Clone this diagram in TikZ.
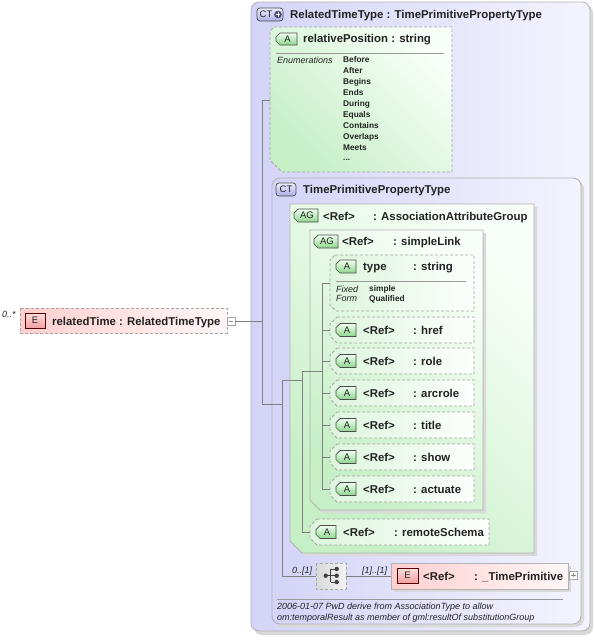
\documentclass[tikz,border=0pt]{standalone}
\usepackage{fontspec}
\setmainfont{Liberation Sans}
\definecolor{ctl}{HTML}{D3D4F7}
\definecolor{ctr}{HTML}{F4F4FE}
\definecolor{grl}{HTML}{C6EFC6}
\definecolor{grr}{HTML}{F8FFF8}
\definecolor{al}{HTML}{DDF5DD}
\definecolor{ar}{HTML}{FCFFFC}
\definecolor{pl}{HTML}{FFCFCF}
\definecolor{pr}{HTML}{FFF7F7}
\definecolor{ink}{HTML}{222222}
\definecolor{icgt}{HTML}{F0FFF0}
\definecolor{icgb}{HTML}{8ED68E}
\definecolor{icct}{HTML}{EEEEFF}
\definecolor{iccb}{HTML}{ACACE6}
\definecolor{icet}{HTML}{FFE0E0}
\definecolor{iceb}{HTML}{F0A0A0}
\newcommand\cbox[7]{\path[#1] ({#2+#6},#3) -- (#4,#3) -- (#4,#5) -- ({#2+#7},#5) -- (#2,{#5-#7}) -- (#2,{#3+#6}) -- cycle;}
\newcommand\tagicon[6]{\cbox{iconA}{#2}{#3}{#4}{#5}{4}{4}\node[icontxt] (#1) at ({(#2+#4)/2+1},{(#3+#5)/2}) {#6};}
\begin{document}
\begin{tikzpicture}[x=1pt,y=-1pt,
  txt/.style={anchor=base west,inner sep=0,text=ink},
  lbl/.style={txt,font=\fontsize{11.4}{13}\selectfont\bfseries},
  small/.style={txt,font=\fontsize{8.3}{10}\selectfont\bfseries},
  ital/.style={txt,font=\fontsize{9}{11}\selectfont\itshape},
  icontxt/.style={inner sep=0,text=ink,font=\fontsize{9.5}{11}\selectfont},
  conn/.style={draw=black!50,line width=0.6pt},
  shadow/.style={fill=black!15,draw=none},
  ctbox/.style={draw=black!30,line width=0.8pt,left color=ctl,right color=ctr,rounded corners=8pt},
  grbox/.style={draw=black!30,line width=0.8pt,bottom color=grl,top color=grr,shading angle=-45},
  dashbox/.style={draw=black!35,dash pattern=on 3pt off 2pt,line width=0.8pt},
  grdash/.style={dashbox,bottom color=grl,top color=grr,shading angle=-45},
  adash/.style={dashbox,left color=al,right color=ar},
  pinkdash/.style={dashbox,left color=pl,right color=pr},
  pinkbox/.style={draw=black!30,line width=0.8pt,left color=pl,right color=pr},
  seqbox/.style={dashbox,left color=black!15,right color=black!5},
  iconA/.style={draw=black!70,line width=0.7pt,top color=icgt,bottom color=icgb},
  iconCT/.style={draw=black!70,line width=0.7pt,top color=icct,bottom color=iccb,rounded corners=3pt},
  iconE/.style={draw=red!35!black,line width=0.7pt,top color=icet,bottom color=iceb},
  sep/.style={draw=black!40,line width=0.6pt},
  pm/.style={draw=black!35,line width=0.5pt,fill=white},
]
\useasboundingbox (0,0) rectangle (594,643);
\fill[white] (0,0) rectangle (594,643);

% ---------- outer complex type ----------
\path[shadow,rounded corners=8pt] (254,5) rectangle (593,635);
\path[ctbox] (251,2) rectangle (590,631);
\path[iconCT] (257,8) rectangle (283,21);
\node[icontxt] (ct1) at (266,14.5) {CT};
\fill[blue!25!black!70] (278,14.5) circle (3.8);
\draw[white,line width=1pt] (275.8,14.5) -- (280.2,14.5) (278,12.3) -- (278,16.7);
\node[lbl] (hdr1) at (290,18) {RelatedTimeType : TimePrimitivePropertyType};

% ---------- relativePosition ----------
\cbox{grdash}{270}{27}{452}{172}{4}{12}
\coordinate (rp-w) at (270,100);
\tagicon{rpA}{276}{33}{297}{45}{A}
\node[lbl] (rp) at (303,42) {relativePosition : string};
\draw[sep] (276,53) -- (444,53);
\node[ital] (enum) at (277,63) {Enumerations};
\foreach \v [count=\i from 0] in {Before,After,Begins,Ends,During,Equals,Contains,Overlaps,Meets}
  \node[small] (ev\i) at (343,{62.8+10.9*\i}) {\v};
\node[small] (evdots) at (343,160.9) {...};

% ---------- inner complex type ----------
\path[shadow,rounded corners=8pt] (275,181) rectangle (584,627);
\path[ctbox] (272,178) rectangle (581,624);
\path[iconCT] (276,183) rectangle (296,196);
\node[icontxt] (ct2) at (286,189.5) {CT};
\node[lbl] (hdr2) at (303,193) {TimePrimitivePropertyType};

% ---------- AssociationAttributeGroup ----------
\cbox{shadow}{293}{207}{537}{556}{0}{12}
\cbox{grbox}{290}{204}{534}{553}{0}{12}
\tagicon{ag1A}{294}{209}{318}{222}{AG}
\node[lbl] (ag1r) at (323,220) {<Ref>};
\node[lbl] (ag1t) at (373,220) {: AssociationAttributeGroup};

% ---------- simpleLink ----------
\cbox{shadow}{313}{233}{486}{513}{0}{10}
\cbox{grbox}{310}{230}{483}{510}{0}{10}
\tagicon{ag2A}{314}{235}{338}{248}{AG}
\node[lbl] (ag2r) at (342,245) {<Ref>};
\node[lbl] (ag2t) at (393,245) {: simpleLink};

% ---------- type attribute ----------
\cbox{adash}{330}{255}{474}{311}{5}{6}
\coordinate (type-w) at (330,283);
\tagicon{tyA}{336}{260}{356}{273}{A}
\node[lbl] (tyn) at (363,270) {type};
\node[lbl] (tyt) at (413,270) {: string};
\draw[sep] (336,281) -- (466,281);
\node[ital] (fx) at (336,292) {Fixed};
\node[ital] (fm) at (336,301.5) {Form};
\node[small] (fxv) at (369,291) {simple};
\node[small] (fmv) at (369,301) {Qualified};

% ---------- ref attributes ----------
\foreach \nm/\c in {href/330,role/361,arcrole/393,title/425,show/457,actuate/489}{
  \cbox{adash}{330}{\c-13}{474}{\c+13}{7}{7}
  \coordinate (\nm-w) at (330,\c);
  \tagicon{\nm A}{336}{\c-6.5}{356}{\c+6.5}{A}
  \node[lbl] (\nm r) at (363,\c+4) {<Ref>};
  \node[lbl] (\nm t) at (413,\c+4) {: \nm};
}

% ---------- remoteSchema ----------
\cbox{adash}{310}{519}{489}{545}{7}{7}
\coordinate (rs-w) at (310,532);
\tagicon{rsA}{316}{525.5}{336}{538.5}{A}
\node[lbl] (rsr) at (343,536) {<Ref>};
\node[lbl] (rst) at (394,536) {: remoteSchema};

% ---------- sequence + element ----------
\path[seqbox] (316,563) rectangle (346,589);
\node[inner sep=0,minimum width=30pt,minimum height=26pt] (seq) at (331,576) {};
\begin{scope}[black!75]
  \draw[line width=0.8pt] (325.7,575.7) -- (330.7,575.7) (330.7,569) -- (330.7,582)
    (330.7,569) -- (336.7,569) (330.7,575.7) -- (336.7,575.7) (330.7,582) -- (336.7,582);
  \fill (325.7,575.7) circle (2.2) (336.7,569) circle (2.2) (336.7,575.7) circle (2.2) (336.7,582) circle (2.2);
\end{scope}
\node[ital] (occ1) at (292,573) {0..[1]};
\node[ital] (occ2) at (362,573) {[1]..[1]};

\path[shadow] (394,566) rectangle (571,592);
\path[pinkbox] (391,563) rectangle (568,589);
\node[inner sep=0,minimum width=177pt,minimum height=26pt] (tp) at (479.5,576) {};
\path[iconE] (397,568) rectangle (418,583);
\node[icontxt] (tpE) at (407.5,575.5) {E};
\node[lbl] (tpr) at (423,580) {<Ref>};
\node[lbl] (tpt) at (474,580) {: \_TimePrimitive};
\path[pm] (569.5,571) rectangle (577.5,579);
\draw[black!45,line width=0.6pt] (571.3,575) -- (575.7,575) (573.5,572.8) -- (573.5,577.2);

% ---------- annotation ----------
\draw[sep] (277,599) -- (563,599);
\node[ital] (an1) at (277,609.5) {2006-01-07 PwD derive from AssociationType to allow};
\node[ital] (an2) at (277,620) {om:temporalResult as member of gml:resultOf substitutionGroup};

% ---------- element relatedTime ----------
\path[pinkdash] (20,308) rectangle (227,333);
\node[ital] (occ0) at (2,317) {0..*};
\path[iconE] (25,313) rectangle (45,328);
\node[icontxt] (elE) at (35,320.5) {E};
\node[lbl] (el) at (52,325) {relatedTime : RelatedTimeType};
\path[pm] (227.5,317) rectangle (235,325);
\node[inner sep=0,minimum size=8pt] (elm) at (231.2,321) {};
\draw[black!45,line width=0.6pt] (229.3,321) -- (233.2,321);

% ---------- connectors ----------
\coordinate (j0) at (262,321);
\coordinate (j1) at (262,404);
\coordinate (j2) at (282,380);
\coordinate (j2b) at (282,404);
\coordinate (j3) at (302,371);
\coordinate (j3a) at (302,380);
\coordinate (j4) at (322,371);
\coordinate (slx) at (322,0);
\draw[conn] (elm.east) -- (j0);
\draw[conn] (rp-w) -| (j1);
\draw[conn] (j1) -- (j2b);
\draw[conn] (j2) |- (seq.west);
\draw[conn] (j2) -- (j3a);
\draw[conn] (j3) |- (rs-w);
\draw[conn] (j3) -- (j4);
\draw[conn] (type-w) -| (slx |- actuate-w) -- (actuate-w);
\foreach \nm in {href,role,arcrole,title,show}
  \draw[conn] (slx |- \nm-w) -- (\nm-w);
\draw[conn] (seq.east) -- (tp.west);
\end{tikzpicture}
\end{document}
